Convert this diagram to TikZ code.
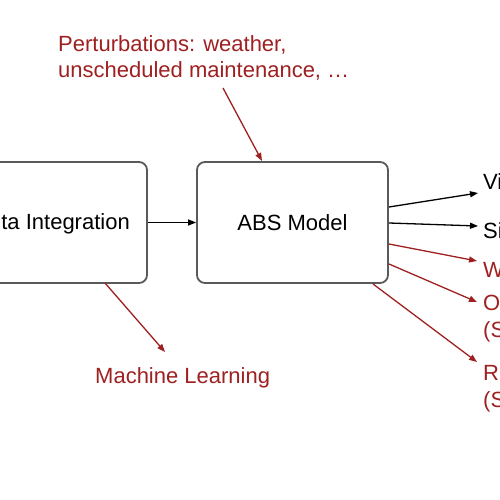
\documentclass[tikz,border=0pt]{standalone}
\usepackage{fontspec}
\setmainfont{Liberation Sans}
\usetikzlibrary{arrows.meta}
\definecolor{dred}{RGB}{158,32,32}
\definecolor{boxgray}{RGB}{90,90,90}
\begin{document}
\begin{tikzpicture}[x=1pt,y=-1pt,
  every node/.style={font=\fontsize{22}{26}\selectfont, inner sep=0pt},
  box/.style={draw=boxgray, line width=1.8pt, rounded corners=8pt, minimum width=191pt, minimum height=121pt},
  lab/.style={anchor=base west},
  redlab/.style={anchor=base west, text=dred},
  blk/.style={line width=1.3pt, -{Triangle[length=8pt,width=6pt]}},
  red/.style={draw=dred, line width=1.3pt, -{Triangle[length=8pt,width=6pt]}, dred}
]
\useasboundingbox (0,0) rectangle (500,500);
\node[box] (di) at (51.5,222.5) {};
\node[anchor=base east] (dil) at (130,229.5) {ta Integration};
\node[box] (abs) at (292.5,222.5) {ABS Model};

\node[redlab] (pert1) at (58,51.5) {Perturbations: weather,};
\node[redlab] (pert2) at (58,77.5) {unscheduled maintenance, …};
\node[redlab] (ml) at (95,383) {Machine Learning};

\node[lab] (vi) at (483,189) {Vi};
\node[lab] (si) at (483,238) {Si};
\node[redlab] (w) at (483,277) {W};
\node[redlab] (o1) at (483,310) {O};
\node[redlab] (o2) at (483,337) {(S};
\node[redlab] (r1) at (483,380) {R};
\node[redlab] (r2) at (483,407) {(S};

\coordinate (ps) at (223,88);
\coordinate (pe) at (262,161);
\coordinate (mls) at (105,283);
\coordinate (mle) at (165,352);
\coordinate (vis) at (389,207);
\coordinate (vie) at (478,193);
\coordinate (sis) at (389,223);
\coordinate (sie) at (478,226);
\coordinate (ws) at (389,244);
\coordinate (we) at (477,261);
\coordinate (os) at (389,264);
\coordinate (oe) at (477,302);
\coordinate (rs) at (373,284);
\coordinate (re) at (477,362);

\draw[blk] (di.east) -- (abs.west);
\draw[red] (ps) -- (pe);
\draw[red] (mls) -- (mle);
\draw[blk] (vis) -- (vie);
\draw[blk] (sis) -- (sie);
\draw[red] (ws) -- (we);
\draw[red] (os) -- (oe);
\draw[red] (rs) -- (re);
\end{tikzpicture}
\end{document}
